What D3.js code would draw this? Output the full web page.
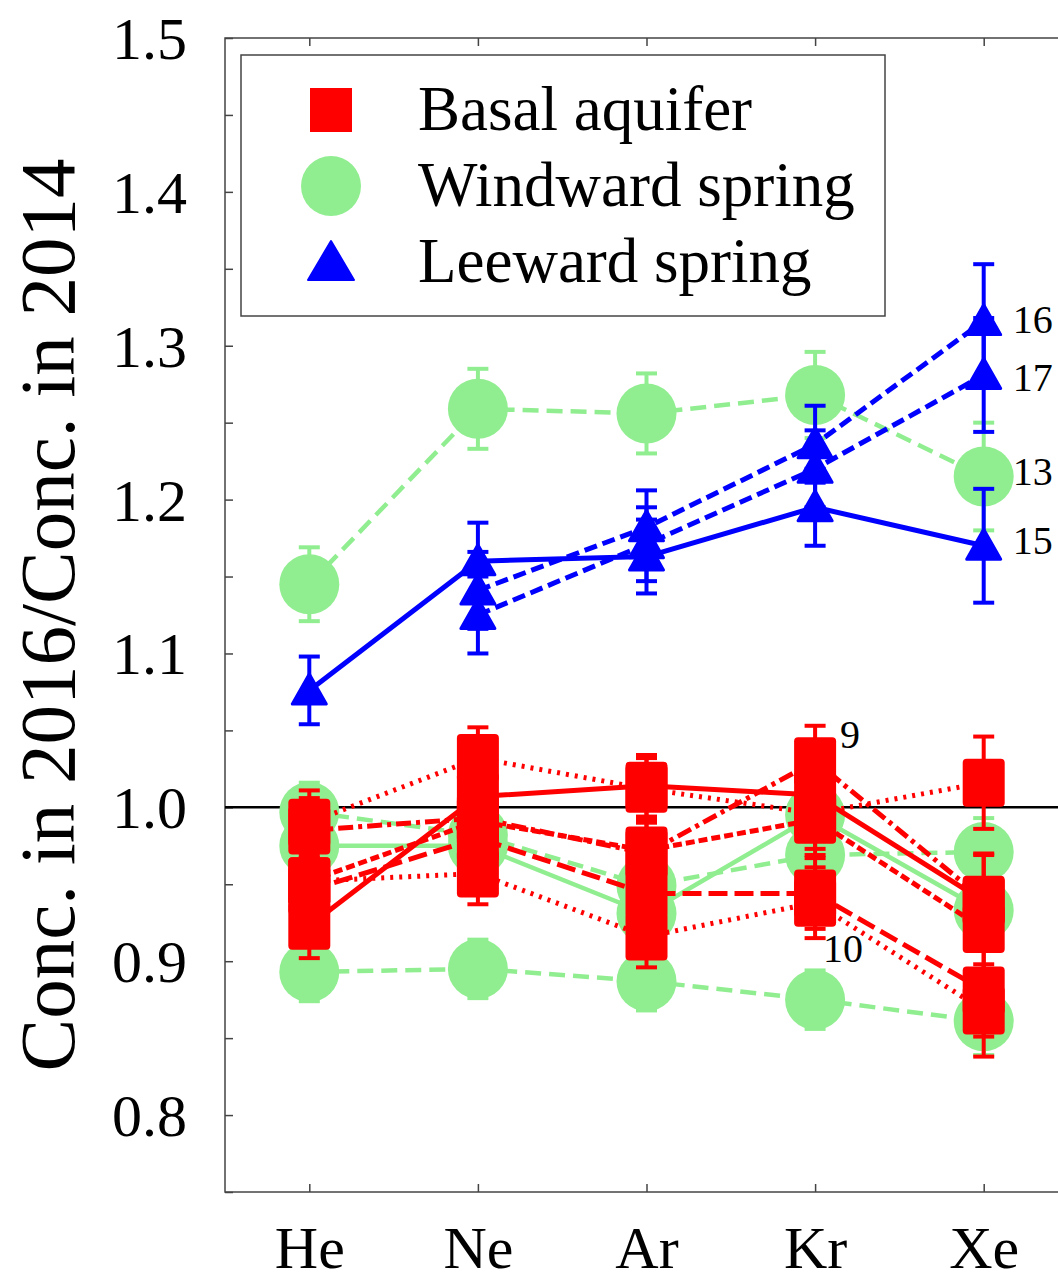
<!DOCTYPE html>
<html>
<head>
<meta charset="utf-8">
<script src="https://cdn.jsdelivr.net/npm/d3@7"></script>
<style>
  body { margin: 0; background: #fff; }
  svg text { font-family: "Liberation Serif", "Times New Roman", serif; fill: #000; }
</style>
</head>
<body>
<svg id="chart" width="1058" height="1280"></svg>
<script>
// Noble gases on the x axis
const elements = ["He", "Ne", "Ar", "Kr", "Xe"];
const yTickValues = [0.8, 0.9, 1.0, 1.1, 1.2, 1.3, 1.4, 1.5];

// Basal aquifer: ratio of 2016 to 2014 concentrations
const basalSolid     = [0.923, 1.007, 1.014, 1.008, 0.939];
const basalLongDash  = [0.946, 0.980, 0.944, 0.944, 0.881];
const basalShortDash = [0.952, 0.991, 0.972, 0.992, 0.921];
const basalDotA      = [0.990, 1.032, 1.012, 0.996, 1.016];
const basalDotB      = [0.952, 0.957, 0.916, 0.938, 0.868];
const basalDashDot   = [0.985, 0.993, 0.970, 1.030, 0.940];
const basalErr       = [0.021, 0.020, 0.020, 0.023, 0.030];

// Windward springs
const wind13    = [1.145, 1.259, 1.256, 1.268, 1.215];
const wind13Err = [0.024, 0.026, 0.026, 0.028, 0.035];
const windLow   = [0.893, 0.895, 0.887, 0.875, 0.861];
const windDash  = [0.997, 0.982, 0.949, 0.969, 0.971];
const windSolid = [0.975, 0.975, 0.931, 0.995, 0.933];
const windErr   = [0.019, 0.019, 0.019, 0.019, 0.022];

// Leeward springs
const lee15    = [1.076, 1.160, 1.163, 1.195, 1.170];
const lee16    = [null, 1.141, 1.182, 1.236, 1.316];
const lee17    = [null, 1.125, 1.171, 1.220, 1.281];
const leeErr   = [0.022, 0.025, 0.024, 0.025, 0.037];

const svg = d3.select("#chart");
const W = 1058, H = 1280;
svg.append("rect").attr("width", W).attr("height", H).attr("fill", "#fff");

const pLeft = 225, pRight = 1068, pTop = 38, pBottom = 1192;
const x = d3.scaleLinear().domain([-0.5, elements.length - 0.5]).range([pLeft, pRight]);
const y = d3.scaleLinear().domain([0.75, 1.5]).range([pBottom, pTop]);

const RED = "#ff0000", GREEN = "#90ee90", BLUE = "#0000ff";

const groups = [
  { name: "Windward spring", color: GREEN, shape: "circle", width: 4.5,
    series: [
      { values: wind13, err: wind13Err, dash: "16,8" },
      { values: windLow, err: windErr, dash: "16,8" },
      { values: windDash, err: windErr, dash: "16,8" },
      { values: windSolid, err: windErr, dash: null }
    ] },
  { name: "Basal aquifer", color: RED, shape: "square", width: 5,
    series: [
      { values: basalDotA, err: basalErr, dash: "3,6" },
      { values: basalDotB, err: basalErr, dash: "3,6" },
      { values: basalShortDash, err: basalErr, dash: "9,4" },
      { values: basalLongDash, err: basalErr, dash: "19,7" },
      { values: basalDashDot, err: basalErr, dash: "15,5,4,5" },
      { values: basalSolid, err: basalErr, dash: null }
    ] },
  { name: "Leeward spring", color: BLUE, shape: "triangle", width: 5,
    series: [
      { values: lee16, err: leeErr, dash: "13,6" },
      { values: lee17, err: leeErr, dash: "13,6" },
      { values: lee15, err: leeErr, dash: null }
    ] }
];

// frame
svg.append("rect")
  .attr("x", pLeft).attr("y", pTop)
  .attr("width", pRight - pLeft).attr("height", pBottom - pTop)
  .attr("fill", "none").attr("stroke", "#444").attr("stroke-width", 1.5);

// inward tick marks
const minorY = d3.range(0.75, 1.5001, 0.05);
const tickAxes = [
  svg.append("g").attr("transform", `translate(${pLeft},0)`)
    .call(d3.axisRight(y).tickValues(minorY).tickSize(8).tickFormat("")),
  svg.append("g").attr("transform", `translate(0,${pBottom})`)
    .call(d3.axisTop(x).tickValues(d3.range(elements.length)).tickSize(8).tickFormat("")),
  svg.append("g").attr("transform", `translate(0,${pTop})`)
    .call(d3.axisBottom(x).tickValues(d3.range(elements.length)).tickSize(8).tickFormat(""))
];
tickAxes.forEach(g => {
  g.select(".domain").remove();
  g.selectAll("line").attr("stroke", "#444").attr("stroke-width", 1.5);
});

// tick labels
const yLab = svg.append("g").attr("transform", `translate(${pLeft},0)`)
  .call(d3.axisLeft(y).tickValues(yTickValues).tickSize(0).tickPadding(38).tickFormat(d3.format(".1f")));
yLab.select(".domain").remove();
yLab.selectAll("text").attr("font-size", 60).attr("font-family", "Liberation Serif, serif").attr("dy", "0.34em");

const xLab = svg.append("g").attr("transform", `translate(0,${pBottom})`)
  .call(d3.axisBottom(x).tickValues(d3.range(elements.length)).tickSize(0).tickPadding(33)
    .tickFormat(i => elements[i]));
xLab.select(".domain").remove();
xLab.selectAll("text").attr("font-size", 60).attr("font-family", "Liberation Serif, serif");

// axis title
svg.append("text")
  .attr("transform", `translate(74,${(160 + 1070) / 2}) rotate(-90)`)
  .attr("text-anchor", "middle")
  .attr("font-size", 79)
  .text("Conc. in 2016/Conc. in 2014");

const plot = svg.append("g");

// reference line at unity
plot.append("line")
  .attr("x1", pLeft).attr("x2", pRight)
  .attr("y1", y(1.0)).attr("y2", y(1.0))
  .attr("stroke", "#000").attr("stroke-width", 2.5);

const line = d3.line()
  .defined(d => d.v != null)
  .x(d => x(d.i)).y(d => y(d.v));

function marker(sel, shape, color, sx, sy) {
  if (shape === "circle") {
    sel.append("circle").attr("cx", sx).attr("cy", sy).attr("r", 30).attr("fill", color);
  } else if (shape === "square") {
    sel.append("rect").attr("x", sx - 21).attr("y", sy - 24)
      .attr("width", 42).attr("height", 48).attr("rx", 4).attr("fill", color);
  } else {
    const w = 34, h = 30;
    sel.append("path")
      .attr("d", `M${sx},${sy - h * 0.55}L${sx + w / 2},${sy + h * 0.45}L${sx - w / 2},${sy + h * 0.45}Z`)
      .attr("fill", color).attr("stroke", color).attr("stroke-width", 3)
      .attr("stroke-linejoin", "round");
  }
}

groups.forEach(gr => {
  const g = plot.append("g");
  // connecting lines
  gr.series.forEach(s => {
    const pts = s.values.map((v, i) => ({ v, i }));
    g.append("path").datum(pts)
      .attr("d", line)
      .attr("fill", "none")
      .attr("stroke", gr.color)
      .attr("stroke-width", gr.width)
      .attr("stroke-dasharray", s.dash)
      .attr("stroke-linejoin", "round");
  });
  // error bars
  gr.series.forEach(s => {
    s.values.forEach((v, i) => {
      if (v == null) return;
      const cx = x(i), e = s.err[i];
      const y1 = y(v + e), y2 = y(v - e);
      g.append("line").attr("x1", cx).attr("x2", cx).attr("y1", y1).attr("y2", y2)
        .attr("stroke", gr.color).attr("stroke-width", 4);
      [y1, y2].forEach(yy => g.append("line")
        .attr("x1", cx - 10.5).attr("x2", cx + 10.5).attr("y1", yy).attr("y2", yy)
        .attr("stroke", gr.color).attr("stroke-width", 4));
    });
  });
  // markers
  gr.series.forEach(s => {
    s.values.forEach((v, i) => {
      if (v == null) return;
      marker(g, gr.shape, gr.color, x(i), y(v));
    });
  });
});

// sample numbers beside points
const annotations = [
  { text: "16", v: lee16[4], i: 4, dx: 29, dy: 12 },
  { text: "17", v: lee17[4], i: 4, dx: 29, dy: 16 },
  { text: "13", v: wind13[4], i: 4, dx: 29, dy: 8 },
  { text: "15", v: lee15[4], i: 4, dx: 29, dy: 8 },
  { text: "9",  v: basalDashDot[3], i: 3, dx: 25, dy: -13 },
  { text: "10", v: basalLongDash[3], i: 3, dx: 8, dy: 69 }
];
annotations.forEach(a => {
  svg.append("text")
    .attr("x", x(a.i) + a.dx).attr("y", y(a.v) + a.dy)
    .attr("font-size", 40)
    .text(a.text);
});

// legend
const lg = svg.append("g");
lg.append("rect").attr("x", 241).attr("y", 55).attr("width", 644).attr("height", 261)
  .attr("fill", "#fff").attr("stroke", "#444").attr("stroke-width", 1.5);
const legendItems = [groups[1], groups[0], groups[2]];
legendItems.forEach((gr, k) => {
  const cy = 110 + k * 76;
  if (gr.shape === "square") {
    lg.append("rect").attr("x", 310).attr("y", cy - 22).attr("width", 42).attr("height", 44).attr("fill", gr.color);
  } else if (gr.shape === "circle") {
    lg.append("circle").attr("cx", 331).attr("cy", cy).attr("r", 30).attr("fill", gr.color);
  } else {
    lg.append("path").attr("d", `M331,${cy - 21}L354,${cy + 18}L308,${cy + 18}Z`)
      .attr("fill", gr.color).attr("stroke", gr.color).attr("stroke-width", 2).attr("stroke-linejoin", "round");
  }
  lg.append("text").attr("x", 418).attr("y", cy + 20).attr("font-size", 63).text(gr.name);
});
</script>
</body>
</html>
